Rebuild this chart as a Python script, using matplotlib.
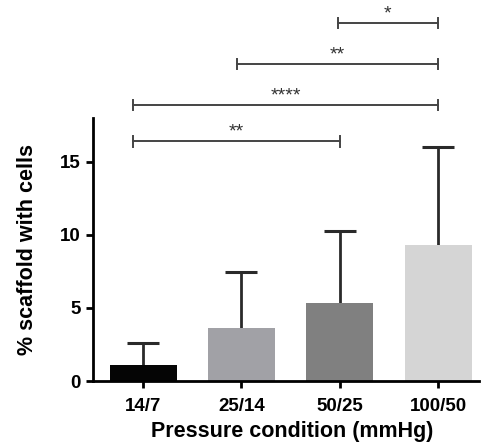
import numpy as np
import matplotlib
matplotlib.use('Agg')
import matplotlib.pyplot as plt

plt.rcParams['font.family'] = ['Liberation Sans', 'DejaVu Sans']

conditions = ['14/7', '25/14', '50/25', '100/50']
means = [1.1, 3.6, 5.35, 9.3]
sd = [1.5, 3.85, 4.95, 6.7]
bar_colors = ['#050505', '#a1a1a6', '#808080', '#d5d5d5']

# significance brackets: (left x, right x, height, label)
brackets = [
    (-0.1, 2.0, 16.4, '**'),
    (-0.1, 3.0, 18.9, '****'),
    (0.95, 3.0, 21.7, '**'),
    (1.98, 3.0, 24.5, '*'),
]

fig = plt.figure(figsize=(4.83, 4.45), dpi=100)
ax = fig.add_axes([0.1925, 0.1438, 0.8, 0.591])

x = np.arange(len(conditions))
# symmetric SD bars drawn under the bars, so only the upper half shows
ax.errorbar(x, means, yerr=sd, fmt='none', ecolor='#2a2a2a',
            elinewidth=2, capsize=11.5, capthick=2.2, zorder=1)
ax.bar(x, means, width=0.68, color=bar_colors, zorder=2)

ax.set_xlim(-0.51, 3.42)
ax.set_ylim(0, 18)
ax.set_yticks([0, 5, 10, 15])
ax.set_xticks(x)
ax.set_xticklabels(conditions)

for side in ['top', 'right']:
    ax.spines[side].set_visible(False)
for side in ['left', 'bottom']:
    ax.spines[side].set_linewidth(2)
    ax.spines[side].set_zorder(3)
ax.tick_params(axis='both', width=2, length=5, labelsize=13.5, pad=4)
ax.tick_params(axis='x', pad=7)
for lbl in ax.get_xticklabels() + ax.get_yticklabels():
    lbl.set_fontweight('bold')

ax.set_ylabel('% scaffold with cells', fontsize=15.5, fontweight='bold', labelpad=16)
ax.set_xlabel('Pressure condition (mmHg)', fontsize=15.5, fontweight='bold')
ax.xaxis.set_label_coords(0.515, -0.152)

for x0, x1, h, label in brackets:
    ax.plot([x0, x1], [h, h], color='#444444', lw=1.4, clip_on=False)
    ax.plot([x0, x0], [h - 0.35, h + 0.35], color='#444444', lw=1.4, clip_on=False)
    ax.plot([x1, x1], [h - 0.35, h + 0.35], color='#444444', lw=1.4, clip_on=False)
    ax.text((x0 + x1) / 2, h + 0.05, label, ha='center', va='bottom', fontsize=14,
            color='#333333', clip_on=False)

fig.savefig('out.png', dpi=100)
